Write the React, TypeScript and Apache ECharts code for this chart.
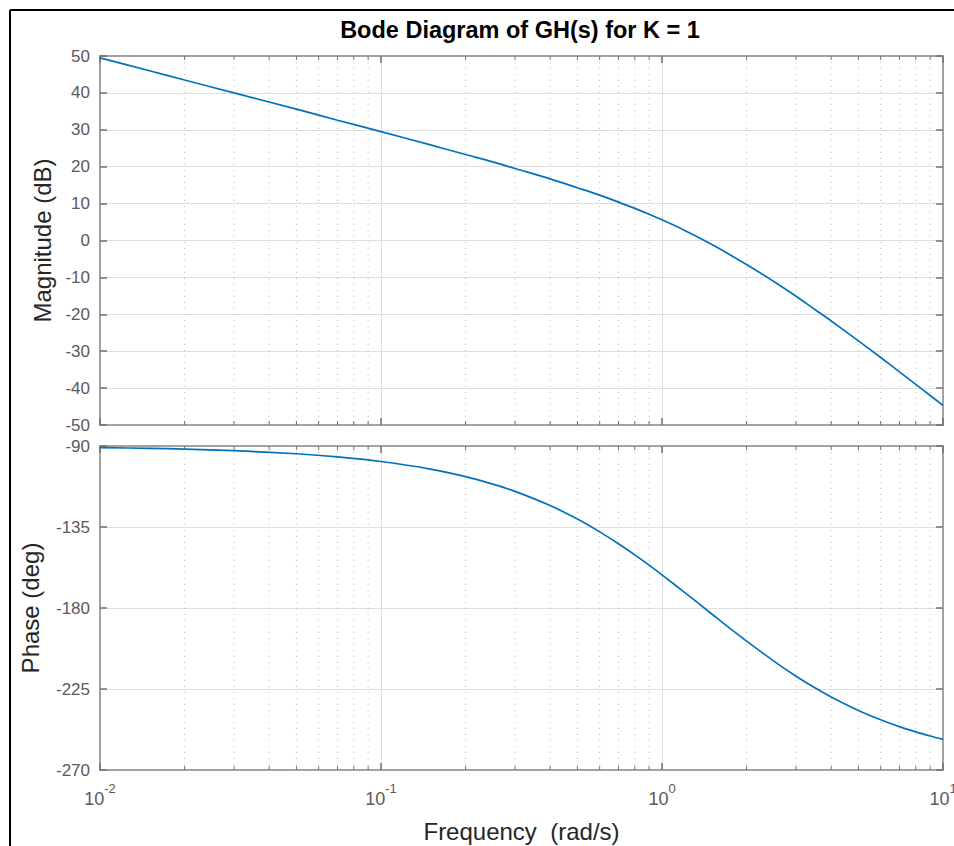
import React, { useEffect, useRef } from "react";
import * as echarts from "echarts";

const TITLE = "Bode Diagram of GH(s) for K = 1";
const MAG_NAME = "Magnitude (dB)";
const PHASE_NAME = "Phase (deg)";
const FREQ_NAME = "Frequency  (rad/s)";

// frequencies (rad/s)
const FREQ = [0.01, 0.015, 0.02, 0.03, 0.05, 0.07, 0.1, 0.15, 0.2, 0.25, 0.3, 0.4, 0.5, 0.6, 0.7, 0.8, 0.9, 1, 1.2, 1.5, 1.75, 2, 2.5, 3, 3.5, 4, 5, 6, 7, 8, 9, 10];
// magnitude (dB)
const MAG = [49.5, 46.0, 43.5, 40.0, 35.6, 32.6, 29.5, 25.9, 23.3, 21.3, 19.5, 16.7, 14.3, 12.3, 10.4, 8.7, 7.1, 5.6, 2.8, -1.0, -3.9, -6.5, -11.1, -15.1, -18.7, -21.8, -27.2, -31.7, -35.6, -39.0, -42.0, -44.7];
// phase (deg)
const PHASE = [-90.9, -91.3, -91.7, -92.6, -94.3, -96.0, -98.6, -102.8, -107.0, -111.2, -115.2, -123.1, -130.6, -137.7, -144.3, -150.5, -156.2, -161.6, -171.2, -183.2, -191.5, -198.4, -209.5, -217.9, -224.3, -229.4, -236.9, -242.1, -245.9, -248.8, -251.1, -253.0];

// minor (log) grid positions
const MINOR_FREQ = [0.02, 0.03, 0.04, 0.05, 0.06, 0.07, 0.08, 0.09, 0.2, 0.3, 0.4, 0.5, 0.6, 0.7, 0.8, 0.9, 2, 3, 4, 5, 6, 7, 8, 9];

const X_MIN = 0.01;
const X_MAX = 10;
const MAG_MIN = -50;
const MAG_MAX = 50;
const MAG_STEP = 10;
const PH_MIN = -270;
const PH_MAX = -90;
const PH_STEP = 45;

const FONT = "'Liberation Sans', Arial, Helvetica, sans-serif";
const LINE_COLOR = "#0072BD";
const AXIS_COLOR = "#a3a3a3";
const TICK_COLOR = "#707070";
const LABEL_COLOR = "#5a5a5a";
const GRID_COLOR = "#dedede";
const MINOR_COLOR = "#bdbdbd";

function minorSeries(xIdx: number, yIdx: number, yMin: number, yMax: number) {
  return {
    type: "custom",
    xAxisIndex: xIdx,
    yAxisIndex: yIdx,
    silent: true,
    z: 1,
    data: MINOR_FREQ.map((f) => [f, yMin]),
    renderItem: (params: any, api: any) => {
      const v = api.value(0);
      const top = api.coord([v, yMax]);
      const bot = api.coord([v, yMin]);
      return {
        type: "group",
        children: [
          {
            type: "line",
            shape: { x1: top[0], y1: top[1], x2: bot[0], y2: bot[1] },
            style: { stroke: MINOR_COLOR, lineWidth: 1, lineDash: [1, 5] },
          },
          {
            type: "line",
            shape: { x1: top[0], y1: top[1], x2: top[0], y2: top[1] + 4 },
            style: { stroke: TICK_COLOR, lineWidth: 1 },
          },
          {
            type: "line",
            shape: { x1: bot[0], y1: bot[1], x2: bot[0], y2: bot[1] - 4 },
            style: { stroke: TICK_COLOR, lineWidth: 1 },
          },
        ],
      };
    },
  };
}

function xAxisPair(gridIndex: number, withLabels: boolean) {
  const base = {
    type: "log",
    logBase: 10,
    gridIndex,
    min: X_MIN,
    max: X_MAX,
    splitNumber: 3,
    axisLine: { show: true, onZero: false, lineStyle: { color: AXIS_COLOR, width: 2 } },
    axisTick: { show: true, inside: true, length: 7, lineStyle: { color: TICK_COLOR, width: 1.5 } },
    minorTick: { show: false },
  };
  const bottom: any = {
    ...base,
    position: "bottom",
    splitLine: { show: true, lineStyle: { color: GRID_COLOR, width: 1 } },
    axisLabel: withLabels
      ? {
          show: true,
          margin: 12,
          hideOverlap: false,
          formatter: (v: number) => {
            const e = Math.round(Math.log10(v));
            return "{b|10}{s|" + e + "}";
          },
          rich: {
            b: { fontSize: 18, fontFamily: FONT, color: LABEL_COLOR, lineHeight: 26, verticalAlign: "bottom" },
            s: { fontSize: 13, fontFamily: FONT, color: LABEL_COLOR, lineHeight: 14, verticalAlign: "top" },
          },
        }
      : { show: false },
  };
  if (withLabels) {
    bottom.name = FREQ_NAME;
    bottom.nameLocation = "middle";
    bottom.nameGap = 49;
    bottom.nameTextStyle = { fontSize: 24, fontFamily: FONT, color: "#262626" };
  }
  const top: any = {
    ...base,
    position: "top",
    splitLine: { show: false },
    axisLabel: { show: false },
  };
  return [bottom, top];
}

function yAxisPair(gridIndex: number, min: number, max: number, step: number, name: string, nameGap: number) {
  const base = {
    type: "value",
    gridIndex,
    min,
    max,
    interval: step,
    axisLine: { show: true, onZero: false, lineStyle: { color: AXIS_COLOR, width: 2 } },
    axisTick: { show: true, inside: true, length: 7, lineStyle: { color: TICK_COLOR, width: 1.5 } },
  };
  const left = {
    ...base,
    position: "left",
    name,
    nameLocation: "middle",
    nameGap,
    nameTextStyle: { fontSize: 24, fontFamily: FONT, color: "#262626" },
    splitLine: { show: true, lineStyle: { color: GRID_COLOR, width: 1 } },
    axisLabel: { show: true, margin: 10, fontSize: 17, fontFamily: FONT, color: LABEL_COLOR },
  };
  const right = {
    ...base,
    position: "right",
    splitLine: { show: false },
    axisLabel: { show: false },
  };
  return [left, right];
}

export default function App() {
  const ref = useRef<HTMLDivElement>(null);

  useEffect(() => {
    if (!ref.current) return;
    const chart = echarts.init(ref.current, null, { renderer: "svg" });

    const magData = FREQ.map((f, i) => [f, MAG[i]]);
    const phData = FREQ.map((f, i) => [f, PHASE[i]]);

    const option: any = {
      animation: false,
      backgroundColor: "#ffffff",
      textStyle: { fontFamily: FONT },
      title: {
        text: TITLE,
        left: 515,
        top: 13,
        textAlign: "center",
        textStyle: { fontSize: 23.5, fontWeight: "bold", fontFamily: FONT, color: "#000000" },
      },
      graphic: [
        {
          type: "line",
          shape: { x1: 10, y1: 10, x2: 954, y2: 10 },
          style: { stroke: "#000000", lineWidth: 2 },
          silent: true,
        },
        {
          type: "line",
          shape: { x1: 10, y1: 10, x2: 10, y2: 846 },
          style: { stroke: "#000000", lineWidth: 2 },
          silent: true,
        },
      ],
      grid: [
        { left: 100, top: 56, width: 843, height: 369, containLabel: false, outerBoundsMode: "none" },
        { left: 100, top: 446, width: 843, height: 324, containLabel: false, outerBoundsMode: "none" },
      ],
      xAxis: [...xAxisPair(0, false), ...xAxisPair(1, true)],
      yAxis: [
        ...yAxisPair(0, MAG_MIN, MAG_MAX, MAG_STEP, MAG_NAME, 46),
        ...yAxisPair(1, PH_MIN, PH_MAX, PH_STEP, PHASE_NAME, 58),
      ],
      series: [
        minorSeries(0, 0, MAG_MIN, MAG_MAX),
        minorSeries(2, 2, PH_MIN, PH_MAX),
        {
          type: "line",
          name: "Magnitude",
          xAxisIndex: 0,
          yAxisIndex: 0,
          data: magData,
          showSymbol: false,
          smooth: 0.3,
          z: 3,
          lineStyle: { color: LINE_COLOR, width: 1.7 },
        },
        {
          type: "line",
          name: "Phase",
          xAxisIndex: 2,
          yAxisIndex: 2,
          data: phData,
          showSymbol: false,
          smooth: 0.3,
          z: 3,
          lineStyle: { color: LINE_COLOR, width: 1.7 },
        },
      ],
    };

    chart.setOption(option);
    return () => {
      chart.dispose();
    };
  }, []);

  return (
    <div
      ref={ref}
      style={{ position: "absolute", left: 0, top: 0, width: 954, height: 846, background: "#ffffff" }}
    />
  );
}
